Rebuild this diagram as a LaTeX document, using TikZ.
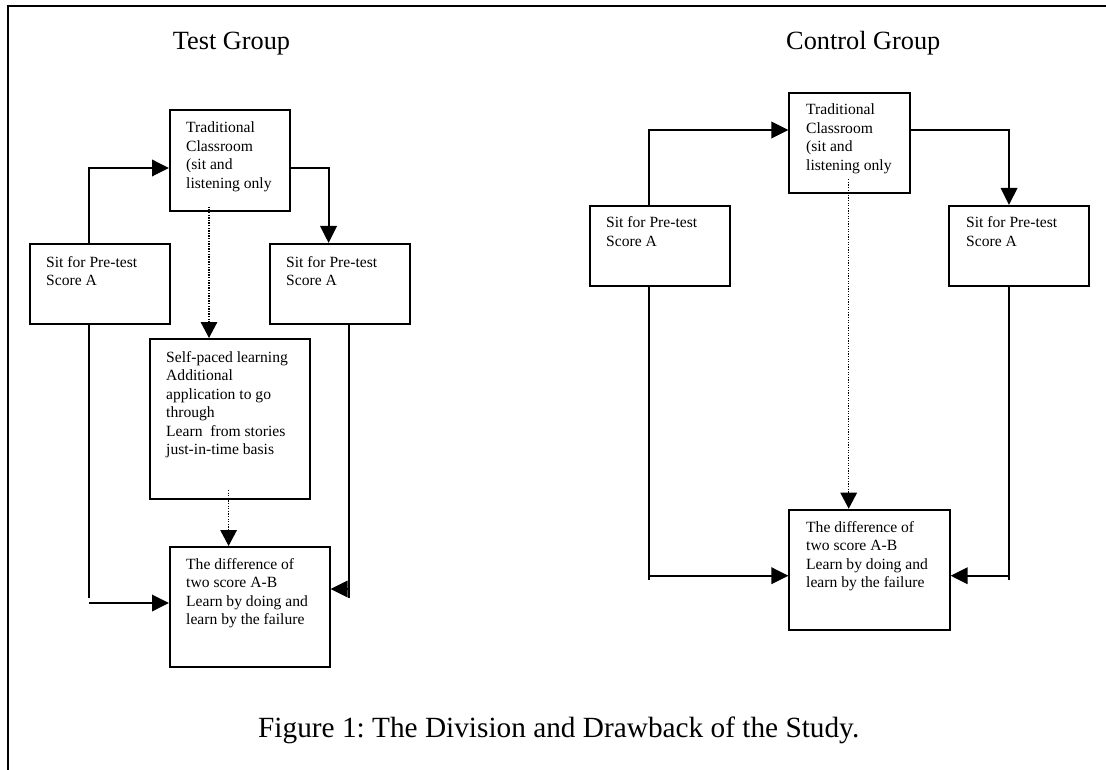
\documentclass[tikz,border=0pt]{standalone}
\usepackage{fontspec}
\setmainfont{Liberation Serif}
\usetikzlibrary{arrows.meta}
\frenchspacing
\newcommand\bxtext[1]{\parbox[t]{200pt}{\fontsize{15.6pt}{18.5pt}\selectfont\raggedright #1}}
\begin{document}
\begin{tikzpicture}[x=1pt,y=-1pt,
  box/.style={draw, line width=1.9pt, inner sep=0pt, anchor=north west},
  txt/.style={anchor=base west, inner sep=0pt},
  conn/.style={line width=1.9pt},
  arr/.style={line width=1.9pt, -{Triangle[length=17pt,width=16.5pt]}},
  dotarr/.style={line width=1.5pt, dash pattern=on 1.3pt off 1.3pt, -{Triangle[length=16pt,width=16.5pt]}},
  title/.style={anchor=base west, inner sep=0pt, font=\fontsize{26.3pt}{30pt}\selectfont},
  captn/.style={anchor=base west, inner sep=0pt, font=\fontsize{29.3pt}{34pt}\selectfont}]
\useasboundingbox (0,0) rectangle (1106,770);
% frame
\draw[line width=2.2pt] (8.3,770) -- (8.3,6.2) -- (1106,6.2);
% titles
\node[title] (tg) at (172.7,49.3) {Test Group};
\node[title] (cg) at (786,49.3) {Control Group};
\node[captn] (cap) at (258,737.7) {Figure 1: The Division and Drawback of the Study.};

% ---------- Test group ----------
\node[box, minimum width=120pt, minimum height=101pt] (t1) at (169,109) {};
\node[txt] (t1t) at (186,133) {\bxtext{Traditional\\Classroom\\(sit and\\listening only}};
\node[box, minimum width=140.4pt, minimum height=80pt] (l1) at (28.6,243) {};
\node[txt] (l1t) at (46,267) {\bxtext{Sit for Pre-test\\Score A}};
\node[box, minimum width=140pt, minimum height=80pt] (r1) at (268.6,243) {};
\node[txt] (r1t) at (286,267) {\bxtext{Sit for Pre-test\\Score A}};
\node[box, minimum width=160.4pt, minimum height=160pt] (s1) at (148.6,338) {};
\node[txt] (s1t) at (166,362) {\bxtext{Self-paced learning\\Additional\\application to go\\through\\Learn\ \ from stories\\just-in-time basis}};
\node[box, minimum width=159.7pt, minimum height=119.7pt] (d1) at (169,546) {};
\node[txt] (d1t) at (186,569) {\bxtext{The difference of\\two score A-B\\Learn by doing and\\learn by the failure}};

\coordinate (p1) at (89,168);
\coordinate (p2) at (328.6,168);
\coordinate (q1) at (209,0);
\coordinate (q2) at (228.6,0);
\coordinate (e1) at (89,598);
\coordinate (h1) at (89,603);
\coordinate (e2) at (348.7,598);
\coordinate (h2) at (348.7,589);
\draw[arr] (l1.north -| p1) -- (p1) -- (t1.west |- p1);
\draw[arr] (t1.east |- p2) -- (p2) -- (r1.north -| p2);
\draw[dotarr] ([yshift=5pt]t1.south -| q1) -- (s1.north -| q1);
\draw[dotarr] ([yshift=10pt]s1.south -| q2) -- (d1.north -| q2);
\draw[conn] (l1.south -| e1) -- (e1);
\draw[arr] (h1) -- (d1.west |- h1);
\draw[conn] (r1.south -| e2) -- (e2);
\draw[arr] (h2) -- (d1.east |- h2);

% ---------- Control group ----------
\node[box, minimum width=120.2pt, minimum height=100.6pt] (t2) at (788.4,91.7) {};
\node[txt] (t2t) at (806,115) {\bxtext{Traditional\\Classroom\\(sit and\\listening only}};
\node[box, minimum width=140.1pt, minimum height=80pt] (l2) at (588.7,205) {};
\node[txt] (l2t) at (606,228) {\bxtext{Sit for Pre-test\\Score A}};
\node[box, minimum width=140.4pt, minimum height=80pt] (r2) at (948,205) {};
\node[txt] (r2t) at (966,228) {\bxtext{Sit for Pre-test\\Score A}};
\node[box, minimum width=160.3pt, minimum height=120pt] (d2) at (788.4,508.7) {};
\node[txt] (d2t) at (806,532) {\bxtext{The difference of\\two score A-B\\Learn by doing and\\learn by the failure}};

\coordinate (p3) at (648.7,130);
\coordinate (p4) at (1009,130);
\coordinate (q3) at (848.7,0);
\coordinate (e3) at (648.7,580);
\coordinate (h3) at (648.7,575.7);
\coordinate (e4) at (1009,580);
\coordinate (h4) at (1009,575.7);
\draw[arr] (l2.north -| p3) -- (p3) -- (t2.west |- p3);
\draw[arr] (t2.east |- p4) -- (p4) -- (r2.north -| p4);
\draw[dotarr] ([yshift=15pt]t2.south -| q3) -- (d2.north -| q3);
\draw[conn] (l2.south -| e3) -- (e3);
\draw[arr] (h3) -- (d2.west |- h3);
\draw[conn] (r2.south -| e4) -- (e4);
\draw[arr] (h4) -- (d2.east |- h4);
\end{tikzpicture}
\end{document}
